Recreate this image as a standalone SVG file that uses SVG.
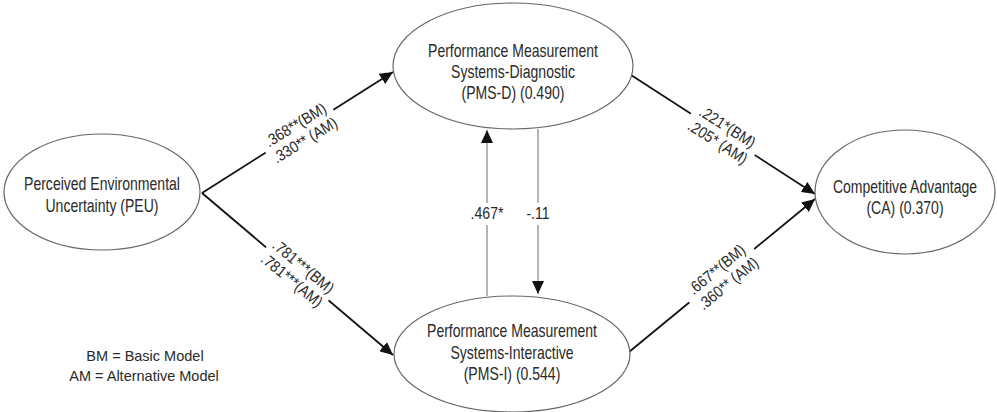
<svg xmlns="http://www.w3.org/2000/svg" width="997" height="412" viewBox="0 0 997 412">
<style>
.node{fill:#fff;stroke:#666;stroke-width:1.2}
.nt{font-family:"Liberation Sans",Arial,sans-serif;font-size:18px;fill:#2a2a2a;text-anchor:middle}
.lt{font-family:"Liberation Sans",Arial,sans-serif;font-size:16px;fill:#2a2a2a;text-anchor:middle}
.leg{font-family:"Liberation Sans",Arial,sans-serif;font-size:14.5px;fill:#2a2a2a;text-anchor:middle}
.main{stroke:#111;stroke-width:1.8;fill:none}
.thin{stroke:#777;stroke-width:1.1;fill:none}
.bg{fill:#fff}
</style>
<defs>
<marker id="ah" markerWidth="14" markerHeight="12" refX="13" refY="6" orient="auto" markerUnits="userSpaceOnUse">
<path d="M0,0 L13,6 L0,12 Z" fill="#111"/>
</marker>
</defs>
<rect width="997" height="412" fill="#fff"/>
<g id="connectors">
<line class="main" x1="202" y1="193" x2="393" y2="72" marker-end="url(#ah)"/>
<line class="main" x1="202" y1="193" x2="393" y2="355" marker-end="url(#ah)"/>
<line class="main" x1="631" y1="75" x2="815" y2="194" marker-end="url(#ah)"/>
<line class="main" x1="629" y1="352" x2="815" y2="199" marker-end="url(#ah)"/>
<line class="thin" x1="487" y1="296" x2="487" y2="130" marker-end="url(#ah)"/>
<line class="thin" x1="538" y1="129" x2="538" y2="294" marker-end="url(#ah)"/>
<g transform="translate(300,132) rotate(-31.5)">
<rect class="bg" x="-40" y="-20" width="80" height="40"/>
<g transform="scale(0.88,1)">
<text class="lt" x="0" y="-3">.368**(BM)</text>
<text class="lt" x="0" y="15">.330** (AM)</text>
</g>
</g>
<g transform="translate(298,273) rotate(39.7)">
<rect class="bg" x="-41" y="-20" width="82" height="40"/>
<g transform="scale(0.88,1)">
<text class="lt" x="0" y="-3">.781***(BM)</text>
<text class="lt" x="0" y="15">.781***(AM)</text>
</g>
</g>
<g transform="translate(723,134) rotate(32.5)">
<rect class="bg" x="-38" y="-20" width="76" height="40"/>
<g transform="scale(0.88,1)">
<text class="lt" x="0" y="-3">.221*(BM)</text>
<text class="lt" x="0" y="15">.205* (AM)</text>
</g>
</g>
<g transform="translate(722,276) rotate(-39.4)">
<rect class="bg" x="-42" y="-20" width="84" height="40"/>
<g transform="scale(0.88,1)">
<text class="lt" x="0" y="-3">.667**(BM)</text>
<text class="lt" x="0" y="15">.360** (AM)</text>
</g>
</g>
<rect class="bg" x="470" y="203" width="34" height="22"/>
<rect class="bg" x="524" y="203" width="28" height="22"/>
<text class="lt" transform="translate(487,219) scale(0.88,1)">.467*</text>
<text class="lt" transform="translate(538,219) scale(0.88,1)">-.11</text>
</g>
<g id="peu">
<ellipse class="node" cx="102" cy="192" rx="98" ry="58"/>
<g transform="translate(102,0) scale(0.78,1)">
<text class="nt" x="0" y="190">Perceived Environmental</text>
<text class="nt" x="0" y="212">Uncertainty (PEU)</text>
</g>
</g>
<g id="pmsd">
<ellipse class="node" cx="513" cy="66" rx="120" ry="63"/>
<g transform="translate(513,0) scale(0.78,1)">
<text class="nt" x="0" y="57">Performance Measurement</text>
<text class="nt" x="0" y="78">Systems-Diagnostic</text>
<text class="nt" x="0" y="99">(PMS-D) (0.490)</text>
</g>
</g>
<g id="pmsi">
<ellipse class="node" cx="512" cy="354" rx="118" ry="58"/>
<g transform="translate(512,0) scale(0.78,1)">
<text class="nt" x="0" y="337">Performance Measurement</text>
<text class="nt" x="0" y="359">Systems-Interactive</text>
<text class="nt" x="0" y="380">(PMS-I) (0.544)</text>
</g>
</g>
<g id="ca">
<ellipse class="node" cx="905" cy="192" rx="90" ry="62"/>
<g transform="translate(905,0) scale(0.78,1)">
<text class="nt" x="0" y="193">Competitive Advantage</text>
<text class="nt" x="0" y="214">(CA) (0.370)</text>
</g>
</g>
<g id="legend">
<text class="leg" x="145" y="361">BM = Basic Model</text>
<text class="leg" x="144" y="381">AM = Alternative Model</text>
</g>
</svg>
